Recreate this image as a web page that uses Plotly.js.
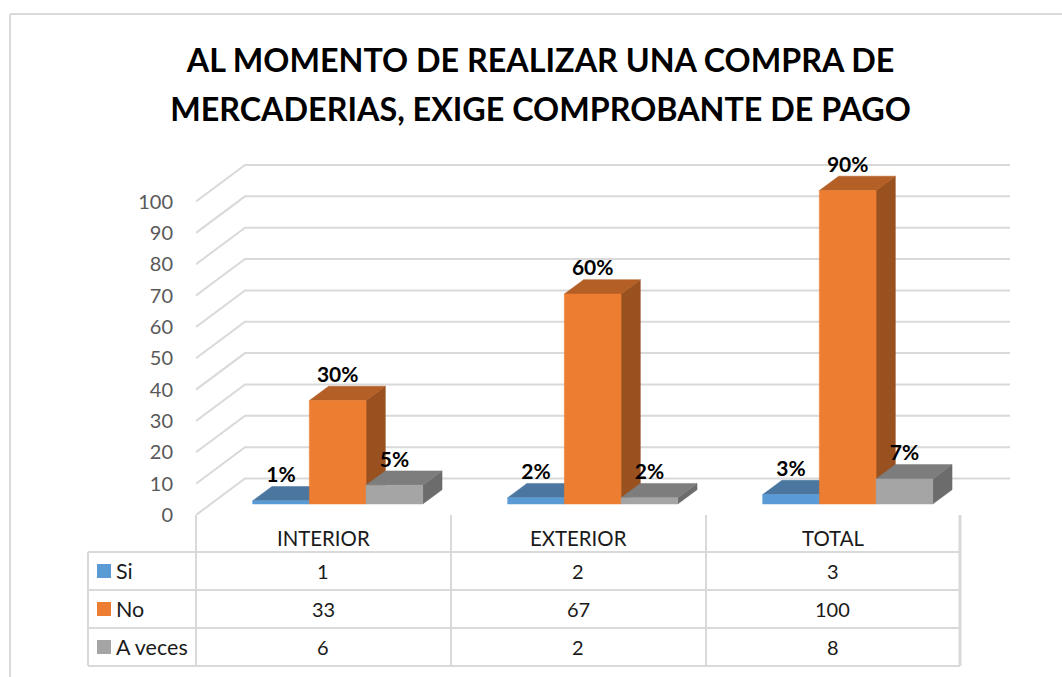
<!DOCTYPE html>
<html>
<head>
<meta charset="utf-8">
<script src="https://cdn.plot.ly/plotly-3.0.1.min.js"></script>
<style>
  html, body { margin: 0; padding: 0; background: #fff; }
  #chart { width: 1062px; height: 677px; }
</style>
</head>
<body>
<div id="chart"></div>
<script>
// values
const categories = ["INTERIOR", "EXTERIOR", "TOTAL"];
const seriesNames = ["Si", "No", "A veces"];
const si = [1, 2, 3];
const no = [33, 67, 100];
const aVeces = [6, 2, 8];
const siPct = ["1%", "2%", "3%"];
const noPct = ["30%", "60%", "90%"];
const aVecesPct = ["5%", "2%", "7%"];
const yTicks = [0, 10, 20, 30, 40, 50, 60, 70, 80, 90, 100];

// title.font.size sets the line height, the span sets the glyph size
const titleText = '<span style="font-size:32.3px">AL MOMENTO DE REALIZAR UNA COMPRA DE<br>MERCADERIAS, EXIGE COMPROBANTE DE PAGO</span>';

const W = 1062, H = 677;
const FONT = "Lato, Carlito, Calibri, sans-serif";
const GRID = "#d9d9d9";

// pixels of the plot box
const plotLeft = 196, plotRight = 1010, floorY = 515;
const pxPerCat = 255, pxPerUnit = 3.135;
const yMax = 116;

// fake 3D: how far the back wall and the bars are pushed, in axis units
const wallDx = 49 / pxPerCat, wallDy = 36.5 / pxPerUnit;
const barShift = 14.2 / pxPerCat, barLift = 11 / pxPerUnit;
const barW = 56.7 / pxPerCat;
const depthX = 19.3 / pxPerCat, depthY = 14.3 / pxPerUnit;
const labelGap = 9.5 / pxPerUnit;

const colors = [
  { front: "#5b9bd5", top: "#4a76a0", side: "#3f6f9c" },
  { front: "#ed7d31", top: "#b45f26", side: "#995120" },
  { front: "#a5a5a5", top: "#7d7d7d", side: "#6c6c6c" },
];

const px = (x) => x / W;
const py = (y) => 1 - y / H;

// back wall + side wall gridlines
const gridX = [], gridY = [];
yTicks.forEach((v) => {
  gridX.push(0, wallDx, (plotRight - plotLeft) / pxPerCat, null);
  gridY.push(v, v + wallDy, v + wallDy, null);
});

const traces = [{
  type: "scatter", mode: "lines", x: gridX, y: gridY,
  line: { color: GRID, width: 2 }, hoverinfo: "skip", showlegend: false,
}];

function face(xs, ys, color, name) {
  return {
    type: "scatter", mode: "lines", x: xs, y: ys, fill: "toself", fillcolor: color,
    line: { color: color, width: 0.5 }, name: name, hoverinfo: "skip", showlegend: false,
  };
}

const allValues = [si, no, aVeces];
const allPct = [siPct, noPct, aVecesPct];

allValues.forEach((vals, s) => {
  const side = { x: [], y: [] }, top = { x: [], y: [] }, front = { x: [], y: [] };
  vals.forEach((v, i) => {
    const x0 = i + 0.5 + barShift + (s - 1.5) * barW;
    const x1 = x0 + barW;
    const y0 = barLift, y1 = barLift + v;
    side.x.push(x1, x1 + depthX, x1 + depthX, x1, x1, null);
    side.y.push(y0, y0 + depthY, y1 + depthY, y1, y0, null);
    top.x.push(x0, x0 + depthX, x1 + depthX, x1, x0, null);
    top.y.push(y1, y1 + depthY, y1 + depthY, y1, y1, null);
    front.x.push(x0, x1, x1, x0, x0, null);
    front.y.push(y0, y0, y1, y1, y0, null);
  });
  traces.push(face(side.x, side.y, colors[s].side, seriesNames[s]));
  traces.push(face(top.x, top.y, colors[s].top, seriesNames[s]));
  traces.push(face(front.x, front.y, colors[s].front, seriesNames[s]));
});

// data labels go last so they sit on top of the bars
allValues.forEach((vals, s) => {
  traces.push({
    type: "scatter", mode: "text",
    x: vals.map((v, i) => i + 0.5 + barShift + (s - 1) * barW),
    y: vals.map((v) => barLift + v + depthY + labelGap),
    text: allPct[s], textposition: "middle center", cliponaxis: false,
    textfont: { family: FONT, size: 21, color: "#000000", weight: 700 },
    hoverinfo: "skip", showlegend: false,
  });
});

// data table under the chart
const tableLeft = 88, tableRight = 960;
const rowLines = [552, 590, 628, 666];
const colLines = [196, 451, 706, 960];
const line = (x0, y0, x1, y1, width) => ({
  type: "line", xref: "paper", yref: "paper", layer: "below",
  x0: px(x0), y0: py(y0), x1: px(x1), y1: py(y1),
  line: { color: GRID, width: width || 2 },
});

const shapes = [
  line(10, 14, W, 14),
  line(10, 14, 10, H),
  line(tableLeft, rowLines[0], tableLeft, rowLines[3]),
];
rowLines.forEach((y) => shapes.push(line(tableLeft, y, tableRight, y)));
colLines.forEach((x, i) => shapes.push(line(x, floorY, x, rowLines[3], i === 3 ? 3 : 2)));

const annotations = [];
const cell = (x, y, text, anchor, size) => ({
  xref: "paper", yref: "paper", x: px(x), y: py(y), text: text,
  xanchor: anchor || "center", yanchor: "middle", showarrow: false,
  font: { family: FONT, size: size || 20, color: "#1a1a1a" },
});

categories.forEach((c, i) => {
  const cx = (colLines[i] + colLines[i + 1]) / 2;
  annotations.push(cell(cx - 0.5, 538, c, "center", 20.4));
  allValues.forEach((vals, s) => {
    annotations.push(cell(cx - 0.5, (rowLines[s] + rowLines[s + 1]) / 2, String(vals[i])));
  });
});

seriesNames.forEach((name, s) => {
  const cy = (rowLines[s] + rowLines[s + 1]) / 2;
  annotations.push(cell(114, cy, name, "left", 21.5));
  shapes.push({
    type: "rect", xref: "paper", yref: "paper", layer: "above",
    x0: px(97), x1: px(111), y0: py(cy - 7), y1: py(cy + 7),
    fillcolor: colors[s].front, line: { width: 0 },
  });
});

const layout = {
  width: W, height: H,
  margin: { l: 0, r: 0, t: 0, b: 0 },
  paper_bgcolor: "#ffffff", plot_bgcolor: "rgba(0,0,0,0)",
  showlegend: false,
  title: {
    text: titleText, x: 0.509, xanchor: "center", y: 0.893, yanchor: "middle",
    font: { family: FONT, size: 37, color: "#000000", weight: 700 },
  },
  xaxis: {
    domain: [px(plotLeft), px(plotRight)],
    range: [0, (plotRight - plotLeft) / pxPerCat],
    visible: false, fixedrange: true,
  },
  yaxis: {
    domain: [py(floorY), py(floorY - yMax * pxPerUnit)],
    range: [0, yMax],
    tickmode: "array", tickvals: yTicks,
    showgrid: false, zeroline: false, showline: false,
    ticks: "outside", ticklen: 18, tickcolor: "rgba(0,0,0,0)",
    tickfont: { family: FONT, size: 20, color: "#595959" },
    fixedrange: true,
  },
  shapes: shapes,
  annotations: annotations,
};

Plotly.newPlot("chart", traces, layout, { displayModeBar: false, staticPlot: true });
</script>
</body>
</html>
